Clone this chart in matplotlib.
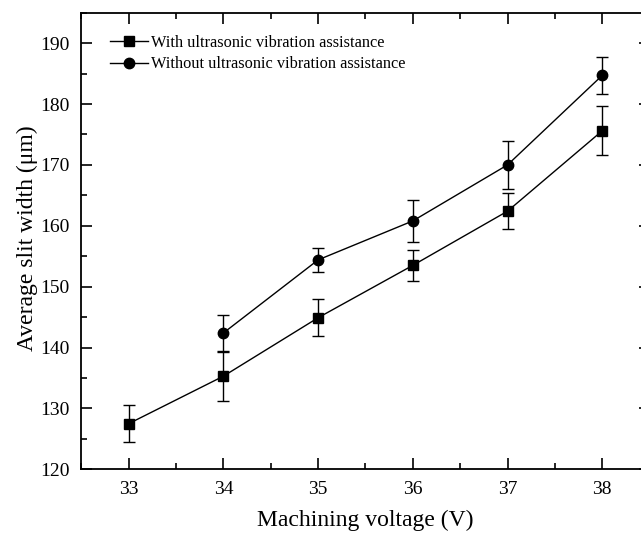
import matplotlib
matplotlib.use("Agg")
import matplotlib.pyplot as plt
from matplotlib.ticker import MultipleLocator

plt.rcParams["font.family"] = ["Liberation Serif", "DejaVu Serif"]

voltage = [33, 34, 35, 36, 37, 38]
with_uva = [127.5, 135.3, 144.9, 153.5, 162.4, 175.6]
with_err = [3.0, 4.0, 3.0, 2.5, 3.0, 4.0]
voltage_wo = [34, 35, 36, 37, 38]
without_uva = [142.4, 154.4, 160.8, 170.0, 184.7]
without_err = [3.0, 2.0, 3.5, 4.0, 3.0]

fig = plt.figure(figsize=(6.41, 5.33), dpi=100)
# right spine sits just outside the picture, as in the source figure
ax = fig.add_axes([0.127, 0.1195, 0.8864, 0.8567])

e1 = ax.errorbar(voltage, with_uva, yerr=with_err, fmt="-s", color="black", ms=7, lw=1,
                 elinewidth=1, capsize=4.5, capthick=1, label="With ultrasonic vibration assistance")
e2 = ax.errorbar(voltage_wo, without_uva, yerr=without_err, fmt="-o", color="black", ms=7.5, lw=1,
                 elinewidth=1, capsize=4.5, capthick=1, label="Without ultrasonic vibration assistance")

ax.set_xlim(32.5, 38.5)
ax.set_ylim(120, 195)
ax.xaxis.set_major_locator(MultipleLocator(1))
ax.xaxis.set_minor_locator(MultipleLocator(0.5))
ax.yaxis.set_major_locator(MultipleLocator(10))
ax.yaxis.set_minor_locator(MultipleLocator(5))
ax.tick_params(which="both", direction="in", top=True, right=True, width=1.2)
ax.tick_params(which="major", length=8, labelsize=14, pad=8.5)
ax.tick_params(which="minor", length=4.5)
for s in ax.spines.values():
    s.set_linewidth(1.3)

ax.set_xlabel("Machining voltage (V)", fontsize=17)
ax.set_ylabel("Average slit width (\u03bcm)", fontsize=17)
ax.xaxis.set_label_coords(0.5, -0.088)
ax.yaxis.set_label_coords(-0.077, 0.506)

# legend shows only line + marker, no error bars
ax.legend([e1[0], e2[0]], [e1.get_label(), e2.get_label()], loc="upper left",
          bbox_to_anchor=(0.05, 0.952), frameon=False, fontsize=11.8, handlelength=2.3,
          handletextpad=0.2, labelspacing=0.35, borderaxespad=0, borderpad=0)

fig.savefig("out.png", dpi=100)
